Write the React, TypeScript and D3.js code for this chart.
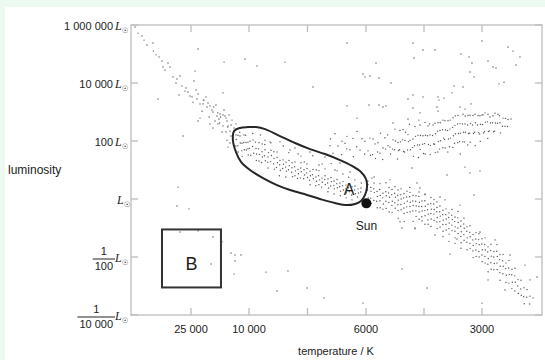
import React from "react";
import * as d3 from "d3";

// ---------- data: [temperature K, log10(L / Lsun)] ----------
const hotMainSequence: [number, number][] = [
  [39000,5.93],[37250,5.62],[36000,5.31],[34500,5.38],[34400,5.10],[33000,4.90],[32250,4.76],[32000,4.55],[30750,4.69],[30250,4.55],
  [29500,4.21],[28500,4.14],[27750,4.24],[27250,3.90],[28000,3.59],[26500,3.72],[25750,3.69],[25250,3.55],[24480,3.34],[23450,3.45],
  [23190,3.62],[22670,3.28],[21900,3.28],[20860,3.17],[20090,3.21],[22150,3.03],[19310,3.00],[18280,2.86],[17500,2.93],[16210,2.86],
  [15690,2.69],[18020,2.59],[16720,2.52],[15430,2.52],[14910,2.34],[18790,2.69],[23190,2.69],[20090,2.59],[20600,3.31],[19100,3.17],
  [21800,3.41],[18100,2.97],[17350,2.83],[16720,2.90],[15950,2.79],[20300,2.83],[17600,2.62],[15500,2.48],[16980,2.31],[15690,2.03],
  [14910,1.93],[15430,1.79],[22670,2.79],[19310,2.45],[14400,2.72],[13880,2.45],[14650,2.17],[13360,2.59],[26250,3.83],[24740,3.52],
  [23710,3.76],[21640,3.41],[21120,3.52],[19570,3.07],[18540,3.24],[17760,2.76],[16470,3.07],[15170,2.90],[14650,2.55],[15950,2.31],
  [31500,4.45],[28750,4.00],[33750,4.97],[36750,5.48],[38250,5.72],
];

const middleMainSequence: [number, number][] = [
  [13360,2.21],[13300,2.05],[13400,1.83],[12840,2.20],[12900,1.84],[12800,1.62],[12330,2.17],[12250,1.93],[12400,2.30],[11810,1.92],
  [11850,1.66],[11750,1.47],[11290,2.21],[11350,1.95],[11200,1.70],[10780,1.95],[10700,1.69],[10850,2.20],[10260,1.96],[10300,1.73],
  [10200,1.52],[9966,1.99],[9990,1.75],[9940,1.51],[9863,2.04],[9880,1.81],[9840,1.58],[9870,2.26],[9761,1.74],[9740,1.55],
  [9780,1.96],[9750,1.33],[9658,1.94],[9670,1.73],[9640,1.54],[9660,1.31],[9556,1.63],[9540,1.45],[9570,1.26],[9550,1.90],
  [9453,1.70],[9470,1.49],[9440,1.32],[9460,1.88],[9350,1.45],[9360,1.27],[9330,1.60],[9350,1.07],[9248,1.68],[9230,1.50],
  [9260,1.29],[9250,1.94],[9145,1.40],[9160,1.21],[9130,1.03],[9150,1.63],[9043,1.43],[9030,1.25],[9060,1.09],[9040,1.62],
  [8940,1.33],[8950,1.18],[8930,0.99],[8960,0.80],[8838,1.35],[8820,1.20],[8850,1.05],[8830,1.83],[8735,1.27],[8750,1.10],
  [8720,0.96],[8740,0.76],[8632,1.33],[8620,1.15],[8650,1.01],[8640,1.60],[8530,1.08],[8540,0.92],[8510,0.77],[8530,1.25],
  [8427,1.28],[8440,1.11],[8410,0.97],[8430,0.80],[8325,1.02],[8310,0.87],[8340,0.71],[8320,1.55],[8222,1.25],[8230,1.07],
  [8210,0.94],[8240,0.73],[8120,1.01],[8100,0.83],[8130,0.70],[8110,1.28],[8017,1.05],[8030,0.90],[8000,0.74],[8020,1.21],
  [7914,0.96],[7900,0.80],[7930,0.65],[7910,0.49],[7812,1.02],[7830,0.84],[7800,0.70],[7820,1.49],[7709,0.76],[7690,0.61],
  [7720,0.46],[7700,1.00],[7607,0.98],[7620,0.80],[7590,0.66],[7610,0.49],[7504,0.72],[7490,0.58],[7520,0.41],[7500,1.21],
  [7402,0.80],[7410,0.67],[7390,0.50],[7400,1.04],[7299,0.69],[7310,0.55],[7280,0.38],[7300,0.25],[7196,0.74],[7180,0.60],
  [7210,0.45],[7190,1.22],[7094,0.62],[7100,0.47],[7080,0.35],[7090,0.17],[6991,0.67],[7000,0.53],[6980,0.39],[6990,0.97],
  [6889,0.55],[6900,0.42],[6870,0.27],[6880,0.11],[6786,0.60],[6800,0.46],[6770,0.31],[6790,0.86],[6684,0.48],[6690,0.35],
  [6670,0.21],[6680,0.04],[6581,0.53],[6600,0.39],[6570,0.25],[6590,0.75],[6479,0.42],[6470,0.27],[6490,0.14],[6480,-0.03],
  [6376,0.45],[6390,0.31],[6360,0.18],[6380,0.66],[6273,0.35],[6260,0.21],[6290,0.07],[6171,0.38],[6180,0.24],[6160,0.55],
  [8940,1.97],[8427,1.76],[7914,1.62],[7402,1.45],[6889,1.24],[8222,1.48],[7607,1.17],[7060,1.00],[6547,0.93],[8598,1.69],
  [9282,1.97],[9607,2.21],[9453,2.03],
];

const lowerMainSequence: [number, number][] = [
  [5948,0.50],[5960,0.31],[5940,0.04],[5950,0.62],[5871,0.27],[5880,0.03],[5860,-0.15],[5875,0.40],[5793,0.55],[5800,0.35],
  [5785,0.22],[5795,-0.05],[5790,0.76],[5716,0.26],[5705,0.09],[5725,-0.08],[5710,-0.30],[5638,0.53],[5645,0.33],[5630,0.12],
  [5640,-0.06],[5635,-0.30],[5560,0.20],[5570,0.04],[5550,-0.17],[5565,-0.35],[5483,0.56],[5490,0.25],[5475,0.11],[5485,-0.08],
  [5480,-0.33],[5405,0.40],[5415,0.21],[5395,0.06],[5410,-0.12],[5400,-0.45],[5328,0.33],[5335,0.15],[5320,-0.08],[5330,-0.22],
  [5325,-0.46],[5250,0.42],[5260,0.20],[5240,0.06],[5255,-0.13],[5245,-0.32],[5172,0.31],[5180,0.13],[5165,-0.04],[5175,-0.20],
  [5170,-0.40],[5168,-0.66],[5095,0.35],[5100,0.15],[5090,0.00],[5098,-0.19],[5092,-0.37],[5017,0.19],[5025,0.04],[5010,-0.15],
  [5020,-0.31],[5015,-0.50],[5012,-0.78],[4940,0.27],[4950,0.07],[4930,-0.08],[4945,-0.27],[4935,-0.46],[4862,0.23],[4870,0.08],
  [4855,-0.11],[4865,-0.26],[4860,-0.44],[4868,0.40],[4785,0.12],[4790,-0.07],[4780,-0.22],[4788,-0.41],[4782,-0.77],[4707,0.11],
  [4715,-0.08],[4700,-0.24],[4710,-0.41],[4705,-0.60],[4629,0.24],[4635,0.09],[4620,-0.11],[4632,-0.26],[4625,-0.45],[4627,-0.70],
  [4552,-0.07],[4560,-0.26],[4545,-0.41],[4555,-0.61],[4550,-0.76],[4474,0.15],[4480,-0.06],[4468,-0.25],[4478,-0.40],[4472,-0.58],
  [4476,-0.87],[4397,-0.18],[4405,-0.37],[4390,-0.52],[4400,-0.72],[4395,-0.87],[4319,0.05],[4325,-0.16],[4312,-0.35],[4322,-0.50],
  [4316,-0.69],[4320,-0.95],[4242,-0.02],[4250,-0.17],[4235,-0.36],[4245,-0.52],[4240,-0.74],[4164,-0.29],[4170,-0.44],[4158,-0.64],
  [4168,-0.79],[4160,-1.02],[4166,-0.10],[4086,-0.24],[4092,-0.44],[4080,-0.59],[4090,-0.78],[4084,-0.97],[4009,-0.39],[4015,-0.54],
  [4002,-0.73],[4012,-0.88],[4006,-1.11],[4010,-1.30],[3931,-0.34],[3938,-0.54],[3925,-0.69],[3934,-0.88],[3928,-1.07],[3854,-0.48],
  [3860,-0.64],[3848,-0.83],[3857,-1.02],[3851,-1.21],[3855,-1.46],[3776,-0.36],[3782,-0.56],[3770,-0.71],[3779,-0.90],[3773,-1.09],
  [3698,-0.62],[3705,-0.77],[3692,-0.96],[3701,-1.11],[3695,-1.34],[3699,-1.53],[3621,-0.43],[3627,-0.65],[3615,-0.81],[3624,-1.00],
  [3618,-1.19],[3543,-0.76],[3550,-0.94],[3537,-1.13],[3546,-1.29],[3540,-1.51],[3544,-1.70],[3466,-0.66],[3472,-0.86],[3460,-1.01],
  [3469,-1.23],[3463,-1.42],[3388,-0.96],[3394,-1.11],[3382,-1.34],[3391,-1.49],[3385,-1.75],[3310,-0.92],[3316,-1.15],[3304,-1.30],
  [3313,-1.53],[3307,-1.71],[3233,-1.22],[3239,-1.41],[3227,-1.60],[3236,-1.79],[3230,-2.02],[3155,-1.16],[3161,-1.38],[3149,-1.54],
  [3158,-1.76],[3152,-1.98],[3078,-1.20],[3084,-1.40],[3072,-1.58],[3081,-1.81],[3075,-2.00],[3000,-1.37],[3005,-1.55],[2995,-1.75],
  [3002,-1.93],[2998,-2.16],[2950,-1.34],[2955,-1.57],[2945,-1.76],[2952,-1.98],[2948,-2.21],[2900,-1.65],[2905,-1.83],[2895,-2.06],
  [2902,-2.25],[2898,-2.51],[2850,-1.56],[2855,-1.78],[2845,-1.97],[2852,-2.20],[2848,-2.42],[2800,-1.81],[2805,-2.00],[2795,-2.22],
  [2802,-2.44],[2750,-1.57],[2755,-1.80],[2745,-1.98],[2752,-2.21],[2748,-2.43],[2700,-1.91],[2705,-2.09],[2695,-2.32],[2702,-2.54],
  [2698,-2.80],[2650,-1.91],[2655,-2.13],[2645,-2.32],[2652,-2.58],[2600,-2.21],[2605,-2.40],[2595,-2.63],[2602,-2.88],[2550,-2.12],
  [2555,-2.38],[2545,-2.60],[2552,-2.90],[2500,-2.42],[2505,-2.61],[2495,-2.87],[2502,-3.09],[2450,-2.39],[2455,-2.65],[2445,-2.87],
  [2452,-3.17],[2400,-2.78],[2405,-3.00],[2395,-3.26],[2350,-2.80],[2355,-3.10],[2345,-3.32],[2300,-3.06],[2305,-3.37],[2295,-3.61],
  [2250,-3.12],[2255,-3.39],[2200,-3.35],[2205,-3.62],[2150,-3.41],
  [5845,0.72],[5379,0.66],[4604,0.38],[3957,-0.03],[3569,-0.21],[5121,-0.79],[4733,-1.00],[4216,-1.24],[3052,-1.14],[2783,-1.41],
  [2533,-1.93],[2283,-2.28],[2617,-3.14],[2900,-2.79],
];

const giantBranch: [number, number][] = [
  [7231,1.84],[7215,2.07],[7128,1.58],[7060,2.25],[6958,1.83],[6820,1.99],[6835,1.53],[6718,1.92],[6650,2.16],[6660,1.73],
  [6547,1.70],[6444,2.09],[6430,1.46],[6307,2.33],[6320,1.80],[6205,1.69],[6137,2.08],[6034,1.99],[6045,1.55],[5948,1.66],
  [5897,2.10],[5885,1.51],[5819,2.07],[5830,1.53],[5767,1.90],[5755,1.40],[5690,1.94],[5700,1.62],[5638,1.58],[5625,2.27],
  [5560,1.76],[5570,1.36],[5509,2.11],[5495,1.72],[5431,1.84],[5440,2.21],[5379,1.79],[5365,1.55],[5302,2.04],[5315,1.72],
  [5250,2.41],[5238,2.00],[5262,1.70],[5173,1.95],[5160,1.67],[5185,1.38],[5121,2.36],[5110,1.97],[5132,1.70],[5043,2.40],
  [5055,2.04],[5030,1.64],[4991,2.02],[5003,1.62],[4980,2.30],[4914,2.22],[4925,1.69],[4902,1.98],[4862,2.03],[4850,1.70],
  [4874,2.58],[4785,2.07],[4797,1.78],[4773,1.47],[4733,2.50],[4720,2.16],[4745,1.84],[4655,2.20],[4667,1.86],[4643,1.43],
  [4604,2.55],[4592,2.19],[4616,1.86],[4600,1.71],[4526,2.18],[4538,1.89],[4514,1.57],[4474,2.64],[4462,2.20],[4486,1.91],
  [4470,1.55],[4397,2.52],[4409,2.18],[4385,1.88],[4345,2.21],[4333,1.85],[4357,2.59],[4340,1.53],[4267,2.55],[4279,2.19],
  [4255,1.90],[4216,2.61],[4204,2.25],[4228,1.89],[4210,1.60],[4138,2.63],[4150,2.34],[4126,1.98],[4142,1.62],[4086,2.36],
  [4074,2.01],[4098,1.72],[4080,2.63],[4008,2.72],[4020,2.39],[3996,2.10],[4012,1.77],[3957,2.70],[3945,2.38],[3969,2.05],
  [3951,1.76],[3879,2.70],[3891,2.36],[3867,2.07],[3884,1.62],[3828,2.41],[3816,2.10],[3840,1.80],[3822,2.72],[3750,2.80],
  [3762,2.47],[3738,2.18],[3755,1.78],[3698,2.54],[3686,2.25],[3710,1.92],[3692,2.86],[3621,2.88],[3633,2.59],[3609,2.26],
  [3626,1.94],[3569,2.60],[3557,2.27],[3581,1.98],[3563,1.55],[3491,2.92],[3503,2.59],[3479,2.30],[3496,1.97],[3440,2.59],
  [3428,2.30],[3452,1.97],[3434,2.86],[3362,2.88],[3374,2.55],[3350,2.26],[3367,1.86],[3310,2.89],[3298,2.60],[3322,2.27],
  [3304,1.96],[3233,2.88],[3245,2.55],[3221,2.26],[3181,2.92],[3169,2.63],[3193,2.30],[3175,1.84],[3103,2.88],[3115,2.55],
  [3091,2.29],[3052,2.87],[3040,2.58],[3064,2.24],[3046,1.99],[2983,2.90],[2991,2.57],[2975,2.28],[2950,2.97],[2942,2.65],
  [2958,2.32],[2900,2.92],[2908,2.66],[2892,2.33],[2904,2.09],[2867,2.83],[2859,2.62],[2875,2.35],[2817,2.87],[2825,2.63],
  [2809,2.32],[2783,2.96],[2775,2.62],[2791,2.34],[2733,2.92],[2741,2.61],[2700,2.63],[2692,2.28],[2708,2.87],[2650,2.79],
  [2658,2.51],[2617,2.51],[2609,2.78],[2567,2.74],[2575,2.50],[2517,2.76],
  [4811,1.07],[3905,0.83],[3440,1.10],[3052,0.97],[3310,0.90],[4681,0.55],[4086,0.07],[4474,0.17],[3207,0.14],
];

const brightGiants: [number, number][] = [
  [23190,5.17],[16460,4.72],[11040,4.83],[9726,4.59],[8769,4.72],[7812,3.86],[16720,3.66],[33250,3.45],[27000,2.17],[23960,4.41],
  [24220,4.07],[6649,5.38],[4785,5.38],[4526,5.14],[4216,5.14],[3000,5.45],[2567,5.24],[2483,5.10],[2367,4.90],[3543,5.00],
  [3336,4.90],[3259,4.69],[2900,4.76],[2817,4.55],[2767,4.52],[4759,4.86],[5741,4.69],[6103,4.31],[6034,4.21],[5897,4.24],
  [5664,4.17],[5353,4.00],[3310,4.38],[3207,4.21],[2633,4.03],[2717,3.97],[2433,4.62],[3724,3.90],[3491,3.86],[3776,3.66],
  [4785,3.59],[4914,3.45],[4526,3.52],[4138,3.52],[3983,3.48],[4112,3.41],[5922,3.24],[6649,3.21],[5664,3.24],[5560,3.17],
  [5483,3.21],[4785,3.14],[4164,3.17],[3569,3.17],[3440,3.10],[3284,3.28],[4604,2.97],[4138,3.03],[3000,2.90],[4629,2.72],
  [6307,2.79],[5302,2.62],[4914,2.76],
];

const faintStars: [number, number][] = [
  [28250,0.41],[28500,-0.24],[25500,-0.34],[27750,-1.14],[23190,-1.10],[19310,-1.31],[16980,-1.48],[14650,-1.86],[13620,-1.93],
  [12070,-1.93],[13620,-2.14],[19830,-2.24],[13880,-2.59],[9419,-2.52],[8667,-2.48],[9043,-3.17],[8017,-3.07],[7436,-3.41],
  [5069,-1.00],[4733,-1.03],[3647,-1.38],[3828,-1.90],[5069,-2.41],[4423,-3.07],[6103,-3.59],[3000,-3.59],[2200,-2.79],[2083,-2.69],
];

// outline of region A
const contourA: [number, number][] = [
  [13880,2.34],[12330,2.45],[10260,2.48],[9761,2.48],[9453,2.41],[8940,2.17],[8427,1.93],[7914,1.72],[7402,1.55],[6889,1.34],
  [6479,1.14],[6171,0.93],[6000,0.69],[5974,0.41],[6034,0.14],[6171,-0.07],[6376,-0.17],[6649,-0.21],[7060,-0.14],[7572,0.00],
  [8017,0.14],[8598,0.31],[9043,0.48],[9521,0.72],[9966,1.00],[12070,1.28],[13360,1.62],[14140,2.00],
];

// region B: [hot T, cool T, upper logL, lower logL]
const boxB = [32250, 17250, -1.05, -3.05];
const sun: [number, number] = [5990, -0.15];

const xTickValues = [25000, 10000, 8000, 6000, 4500, 3000];
const xTickLabels = ["25 000", "10 000", "", "6000", "", "3000"];
const yTickValues = [6, 4, 2, 0, -2, -4];
const yTickNumbers = ["1 000 000", "10 000", "100", "", "1", "1"];
const yTickDenominators = ["", "", "", "", "100", "10 000"];

const W = 545, H = 360;
const L = 131, R = 542, T = 25, B = 315;

export default function App() {
  const x = d3.scaleLinear()
    .domain([40000, 25000, 10000, 6000, 3000, 2000])
    .range([L, 191, 249, 366, 482, R]);
  const y = d3.scaleLinear().domain([-4, 6]).range([B, T]);

  const allStars = [...hotMainSequence, ...middleMainSequence, ...lowerMainSequence, ...giantBranch, ...brightGiants, ...faintStars];

  const contourPath = d3.line<[number, number]>()
    .x(d => x(d[0]))
    .y(d => y(d[1]))
    .curve(d3.curveCatmullRomClosed.alpha(0.5))(contourA) || "";

  const axisColor = "#bdbdbd";
  const textColor = "#222";
  const sans = "'Liberation Sans', Arial, sans-serif";
  const serif = "'Liberation Serif', 'Times New Roman', serif";
  const tickLen = 7;

  return (
    <svg width={W} height={H} style={{ position: "absolute", left: 0, top: 0, display: "block" }}>
      <rect x={0} y={0} width={W} height={H} fill="#ecfaf1" />
      <rect x={5} y={7} width={W - 5} height={H - 7} fill="#ffffff" />

      {/* frame */}
      <rect x={L} y={T} width={R - L} height={B - T} fill="none" stroke={axisColor} strokeWidth={1.3} />

      {/* x ticks top/bottom */}
      {xTickValues.map((v, i) => (
        <g key={"xt" + i}>
          <line x1={x(v)} x2={x(v)} y1={T} y2={T + tickLen} stroke={axisColor} strokeWidth={1.3} />
          <line x1={x(v)} x2={x(v)} y1={B} y2={B - tickLen} stroke={axisColor} strokeWidth={1.3} />
          {xTickLabels[i] && (
            <text x={x(v)} y={333} textAnchor="middle" fontFamily={sans} fontSize={11} fill={textColor}>
              {xTickLabels[i]}
            </text>
          )}
        </g>
      ))}

      {/* y ticks left/right + labels */}
      {yTickValues.map((v, i) => {
        const ty = y(v);
        const den = yTickDenominators[i];
        const num = yTickNumbers[i];
        let label: React.ReactNode = null;
        if (den) {
          const digits = den.replace(/ /g, "").length;
          const spaces = den.length - digits;
          const w = digits * 6.1 + spaces * 3 + 4;
          const cx = 115 - w / 2;
          const barY = ty + 2;
          label = (
            <g>
              <text x={cx} y={barY - 4} textAnchor="middle" fontFamily={sans} fontSize={11} fill={textColor}>{num}</text>
              <line x1={115 - w} x2={115} y1={barY} y2={barY} stroke={textColor} strokeWidth={1} />
              <text x={cx} y={barY + 11} textAnchor="middle" fontFamily={sans} fontSize={11} fill={textColor}>{den}</text>
            </g>
          );
        } else if (num) {
          label = (
            <text x={113} y={ty + 5} textAnchor="end" fontFamily={sans} fontSize={11} fill={textColor}>{num}</text>
          );
        }
        return (
          <g key={"yt" + i}>
            <line x1={L} x2={L + tickLen} y1={ty} y2={ty} stroke={axisColor} strokeWidth={1.3} />
            <line x1={R} x2={R - tickLen} y1={ty} y2={ty} stroke={axisColor} strokeWidth={1.3} />
            {label}
            <text x={num || den ? 115 : 117} y={ty + 5} fontFamily={serif} fontStyle="italic" fontSize={12} fill={textColor}>
              L
              <tspan dy={3} fontFamily="'DejaVu Sans', sans-serif" fontStyle="normal" fontSize={7.5}>☉</tspan>
            </text>
          </g>
        );
      })}

      {/* axis titles */}
      <text x={8} y={174} fontFamily={sans} fontSize={12} fill={textColor}>luminosity</text>
      <text x={336} y={355} textAnchor="middle" fontFamily={sans} fontSize={11} fill={textColor}>temperature / K</text>

      {/* stars */}
      <g fill="#555">
        {allStars.map((d, i) => (
          <circle key={i} cx={x(d[0])} cy={y(d[1])} r={0.7} />
        ))}
      </g>

      {/* region A */}
      <path d={contourPath} fill="none" stroke="#262626" strokeWidth={2} />
      <text x={349} y={195} textAnchor="middle" fontFamily={sans} fontSize={16} fill="#1d1d1d">A</text>

      {/* region B */}
      <rect x={x(boxB[0])} y={y(boxB[2])} width={x(boxB[1]) - x(boxB[0])} height={y(boxB[3]) - y(boxB[2])}
        fill="none" stroke="#333" strokeWidth={2} />
      <text x={(x(boxB[0]) + x(boxB[1])) / 2} y={270} textAnchor="middle" fontFamily={sans} fontSize={18} fill="#1d1d1d">B</text>

      {/* Sun */}
      <circle cx={x(sun[0])} cy={y(sun[1])} r={5} fill="#111" />
      <text x={x(sun[0])} y={230} textAnchor="middle" fontFamily={sans} fontSize={12} fill={textColor}>Sun</text>
    </svg>
  );
}
